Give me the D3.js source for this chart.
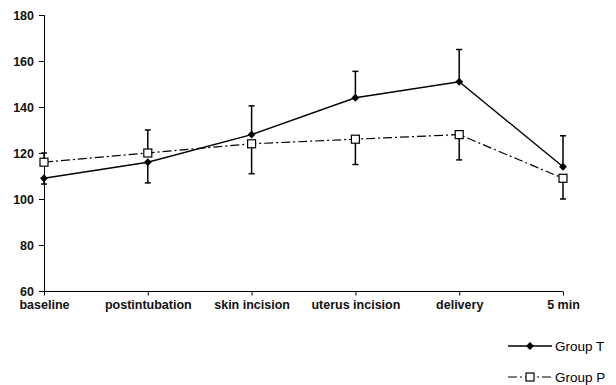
<!doctype html>
<html>
<head>
<script src="https://cdnjs.cloudflare.com/ajax/libs/d3/7.8.5/d3.min.js"></script>
<style>
  body { margin: 0; background: #fff; }
  svg { display: block; font-family: "Liberation Sans", Arial, sans-serif; }
  .axis text { font-size: 12.5px; font-weight: bold; fill: #111; }
  .axis path, .axis line { stroke: #000; stroke-width: 1; }
</style>
</head>
<body>
<svg width="616" height="385"></svg>
<script>
// timepoints and group means / SD
var categories = ["baseline", "postintubation", "skin incision", "uterus incision", "delivery", "5 min"];
var groupT = [109, 116, 128, 144, 151, 114];
var groupTErr = [2.5, 9, 12.5, 11.5, 14, 13.5];
var groupP = [116, 120, 124, 126, 128, 109];
var groupPErr = [4, 10, 13, 11, 11, 9];
var yTicks = [60, 80, 100, 120, 140, 160, 180];

var svg = d3.select("svg");

var x = d3.scalePoint().domain(categories).range([44, 563]);
var y = d3.scaleLinear().domain([60, 180]).range([291, 15]);

// axes
svg.append("g")
    .attr("class", "axis")
    .attr("transform", "translate(44,0)")
    .call(d3.axisLeft(y).tickValues(yTicks).tickSize(5).tickPadding(5))
    .call(g => g.select(".domain").attr("d", "M0.5," + y(180) + "V" + y(60)));

svg.append("g")
    .attr("class", "axis")
    .attr("transform", "translate(0,291.5)")
    .call(d3.axisBottom(x).tickSize(4).tickPadding(5))
    .call(g => g.select(".domain").attr("d", "M44,0H563"));

// error bars: higher group goes up, lower group goes down
function errBars(vals, errs, other) {
    var g = svg.append("g").attr("stroke", "#000").attr("stroke-width", 1.5);
    categories.forEach(function(c, i) {
        var dir = vals[i] >= other[i] ? 1 : -1;
        var cx = x(c), y0 = y(vals[i]), y1 = y(vals[i] + dir * errs[i]);
        g.append("line").attr("x1", cx).attr("x2", cx).attr("y1", y0).attr("y2", y1);
        g.append("line").attr("x1", cx - 3).attr("x2", cx + 3).attr("y1", y1).attr("y2", y1);
    });
}
errBars(groupT, groupTErr, groupP);
errBars(groupP, groupPErr, groupT);

var line = d3.line().x((d, i) => x(categories[i])).y(d => y(d));

svg.append("path").datum(groupP)
    .attr("d", line)
    .attr("fill", "none").attr("stroke", "#000").attr("stroke-width", 1.2)
    .attr("stroke-dasharray", "9,3,2,3");

svg.append("path").datum(groupT)
    .attr("d", line)
    .attr("fill", "none").attr("stroke", "#000").attr("stroke-width", 1.4);

var diamond = d3.symbol().type(d3.symbolDiamond2).size(40);

svg.selectAll(".mt").data(groupT).enter().append("path")
    .attr("class", "mt")
    .attr("d", diamond)
    .attr("transform", (d, i) => "translate(" + x(categories[i]) + "," + y(d) + ")")
    .attr("fill", "#000");

svg.selectAll(".mp").data(groupP).enter().append("rect")
    .attr("class", "mp")
    .attr("x", (d, i) => x(categories[i]) - 4)
    .attr("y", d => y(d) - 4)
    .attr("width", 8).attr("height", 8)
    .attr("fill", "#fff").attr("stroke", "#000").attr("stroke-width", 1.2);

// legend
var lg = svg.append("g");
lg.append("line").attr("x1", 508).attr("x2", 552).attr("y1", 346).attr("y2", 346)
    .attr("stroke", "#000").attr("stroke-width", 1.4);
lg.append("path").attr("d", diamond).attr("transform", "translate(530,346)").attr("fill", "#000");
lg.append("text").attr("x", 555).attr("y", 351).attr("font-size", 13.5).text("Group T");

lg.append("line").attr("x1", 508).attr("x2", 552).attr("y1", 377).attr("y2", 377)
    .attr("stroke", "#000").attr("stroke-width", 1.2).attr("stroke-dasharray", "9,3,2,3");
lg.append("rect").attr("x", 526).attr("y", 373).attr("width", 8).attr("height", 8)
    .attr("fill", "#fff").attr("stroke", "#000").attr("stroke-width", 1.2);
lg.append("text").attr("x", 555).attr("y", 381.5).attr("font-size", 13.5).text("Group P");
</script>
</body>
</html>
